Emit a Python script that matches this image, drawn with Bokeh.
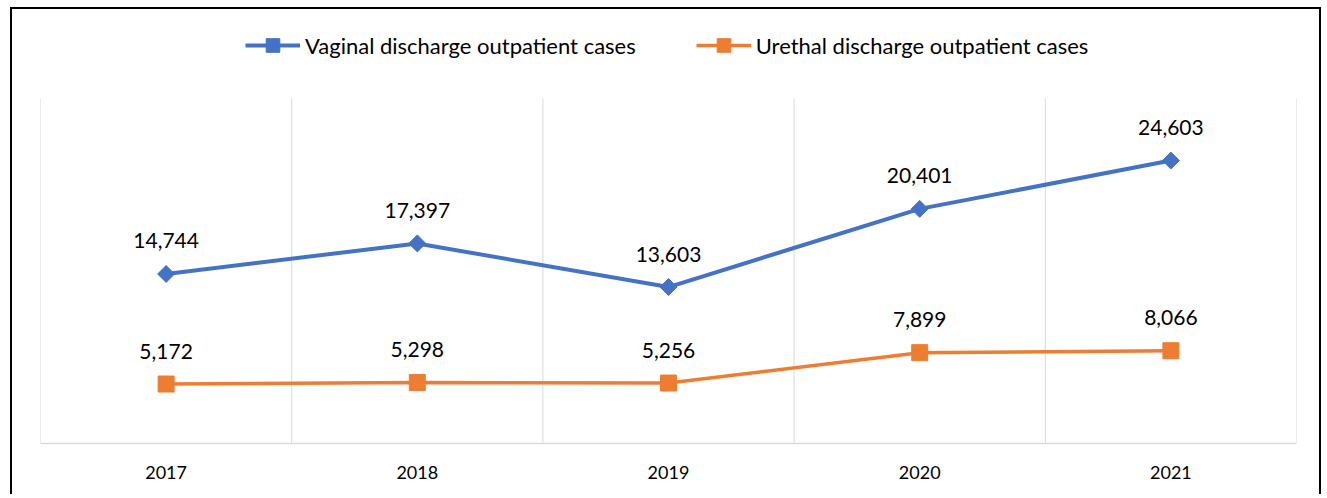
from bokeh.plotting import figure
from bokeh.models import ColumnDataSource, Range1d, FactorRange, LabelSet, Legend, LegendItem
from bokeh.core.properties import value
from bokeh.embed import file_html
from bokeh.resources import INLINE
import numpy as np

years = ["2017", "2018", "2019", "2020", "2021"]
vaginal = [14744, 17397, 13603, 20401, 24603]
urethral = [5172, 5298, 5256, 7899, 8066]
series_names = ["Vaginal discharge outpatient cases", "Urethal discharge outpatient cases"]
y_max = 30000

BLUE = "#4472C4"
ORANGE = "#ED7D31"
GRID = "#D9D9D9"
FONT = "Lato"

# layout (px): the frame reaches up to the canvas top so the legend can sit inside it;
# the value axis (0..y_max) occupies the lower PLOT_PX of the FRAME_PX tall frame
FRAME_PX = 434
PLOT_PX = 345
y_top = y_max * FRAME_PX / PLOT_PX

src_v = ColumnDataSource(dict(x=years, y=vaginal, t=[f"{v:,}" for v in vaginal]))
src_u = ColumnDataSource(dict(x=years, y=urethral, t=[f"{v:,}" for v in urethral]))

p = figure(width=1311, height=487, x_range=FactorRange(*years, range_padding=0),
           y_range=Range1d(0, y_top), output_backend="svg", toolbar_location=None,
           min_border_left=28, min_border_right=27, min_border_top=0, min_border_bottom=53)
p.styles = {"margin-left": "10px", "margin-top": "7px",
            "border-top": "2px solid black", "border-left": "2px solid black",
            "border-right": "2px solid black"}
p.outline_line_color = None
p.background_fill_color = "white"
p.border_fill_color = "white"

p.yaxis.visible = False
p.ygrid.grid_line_color = None
p.xgrid.grid_line_color = None

# vertical gridlines at the category boundaries, spanning 0..y_max
bounds = list(range(len(years) + 1))
p.segment(x0=bounds, x1=bounds, y0=[0] * len(bounds), y1=[y_max] * len(bounds),
          line_color=GRID, line_width=1)

ax = p.xaxis[0]
ax.axis_line_color = GRID
ax.axis_line_width = 1.5
ax.major_tick_line_color = None
ax.minor_tick_line_color = None
ax.major_tick_out = 0
ax.major_label_standoff = 22
ax.major_label_text_font = FONT
ax.major_label_text_font_size = "18px"
ax.major_label_text_color = "#000000"

lv = p.line("x", "y", source=src_v, line_color=BLUE, line_width=4)
mv = p.scatter("x", "y", source=src_v, marker="square", angle=np.pi / 4, size=12,
               fill_color=BLUE, line_color=BLUE)
lu = p.line("x", "y", source=src_u, line_color=ORANGE, line_width=3.5)
mu = p.scatter("x", "y", source=src_u, marker="square", size=16,
               fill_color=ORANGE, line_color=ORANGE)

for s in (src_v, src_u):
    p.add_layout(LabelSet(x="x", y="y", text="t", source=s, y_offset=33,
                          text_align="center", text_baseline="middle",
                          text_font=value(FONT), text_font_size=value("21px"),
                          text_color="#000000"))

legend = Legend(items=[LegendItem(label=series_names[0], renderers=[lv, mv]),
                       LegendItem(label=series_names[1], renderers=[lu, mu])],
                orientation="horizontal", location=(205, 381),
                glyph_width=55, glyph_height=34, label_standoff=5, spacing=60,
                padding=0, margin=0, border_line_color=None,
                label_text_font=FONT, label_text_font_size="22px",
                label_text_color="#000000", background_fill_alpha=0)
p.add_layout(legend)

open("out.html", "w").write(file_html(p, INLINE))
